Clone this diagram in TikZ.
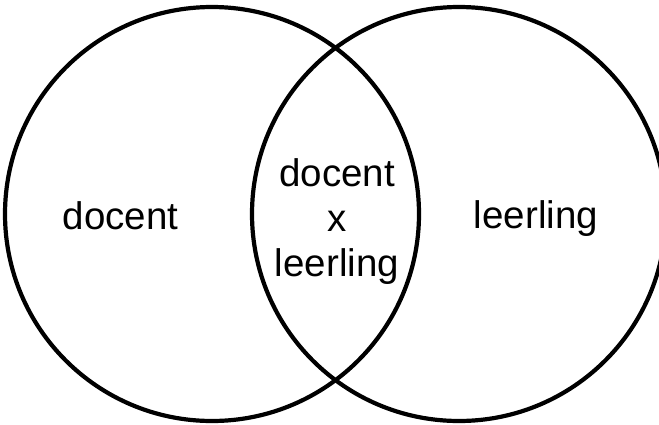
\documentclass[tikz,border=0pt]{standalone}
\usepackage{fontspec}
\setmainfont{Liberation Sans}
\begin{document}
\begin{tikzpicture}[x=1pt,y=-1pt,
  ring/.style={draw=black,line width=4.2pt},
  label/.style={font=\fontsize{38.5}{45}\selectfont,inner sep=0pt,align=center}]
  \useasboundingbox (0,0) rectangle (659,424);
  \clip (0,0) rectangle (659,424);
  \coordinate (cl) at (212,214);
  \coordinate (cr) at (459,214);
  \draw[ring] (cl) circle[radius=207];
  \draw[ring] (cr) circle[radius=207];
  \node[label,anchor=base] (docent) at (120.5,229) {docent};
  \node[label] (both) at (337,222) {docent\\x\\leerling};
  \node[label,anchor=base] (leerling) at (536,228) {leerling};
\end{tikzpicture}
\end{document}
